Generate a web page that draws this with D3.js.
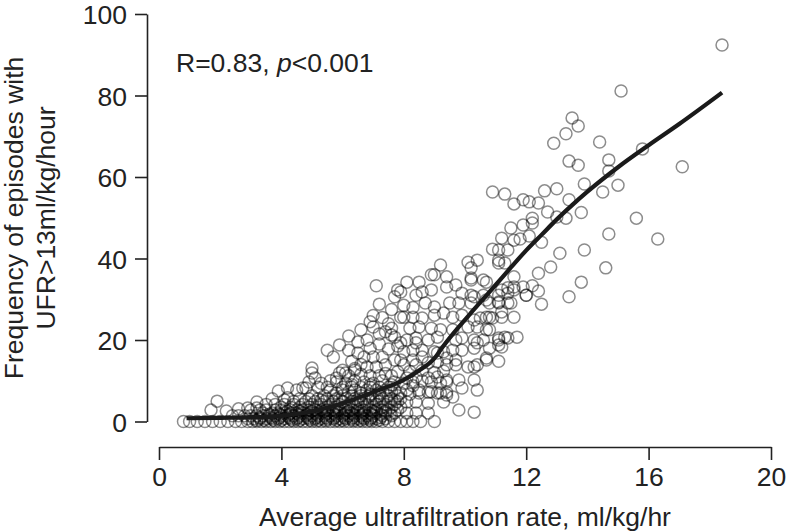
<!DOCTYPE html>
<html><head><meta charset="utf-8">
<script src="https://cdn.jsdelivr.net/npm/d3@7"></script>
<style>
body{margin:0;background:#fff;}
text{font-family:"Liberation Sans",Arial,Helvetica,sans-serif;fill:#222;}
</style></head>
<body><svg id="c" width="788" height="531"></svg>
<script>
const xTicks = [0, 4, 8, 12, 16, 20];
const yTicks = [0, 20, 40, 60, 80, 100];
const xTitle = "Average ultrafiltration rate, ml/kg/hr";
const yTitle = ["Frequency of episodes with", "UFR>13ml/kg/hour"];

// scatter points [ultrafiltration rate, frequency %]
const upperPoints = [
[18.4,92.4],[15.1,81.1],[13.5,74.5],[13.7,72.5],[13.3,70.6],[12.9,68.3],[14.4,68.6],[13.4,63.9],[13.7,62.9],[14.7,64.2],
[14.7,61.5],[15.8,66.9],[17.1,62.5],[13.9,58.3],[15.0,58.0],[14.5,56.3],[13.0,57.1],[12.6,56.6],[10.9,56.3],[11.3,55.8],
[11.9,54.4],[13.4,54.4],[15.6,49.9],[14.7,46.0],[16.3,44.8],[14.6,37.7],
[11.6,53.4],[12.1,53.9],[12.4,53.6],[12.7,51.4],[13.8,51.3],[13.0,50.2],[13.3,49.9],[12.2,49.9],[11.5,47.5],[11.9,48.2],
[12.2,48.7],[11.2,45.0],[11.6,44.5],[11.8,44.8],[12.1,45.5],[12.5,44.0],[11.4,42.1],[13.1,41.3],[13.9,42.1],[11.3,38.9],
[12.8,37.9],[12.4,36.4],[11.6,35.5],[11.4,32.8],[12.2,33.3],[12.4,32.0],[12.0,31.0],[13.8,34.2],[13.4,30.6],[12.5,28.8],
[11.4,29.1],[11.5,29.1],[11.6,25.6],[11.2,26.9],[11.3,20.7],[11.7,20.7]
];
const midPoints = [
[10.9,42.3],[11.1,42.1],[11.1,39.6],[10.4,39.6],[10.6,34.7],[11.6,33.0],[11.2,32.3],[11.1,29.1],[10.7,29.8],[10.3,30.6],
[10.2,34.7],[11.2,25.6],[10.8,25.6],[10.5,25.4],[10.7,22.5],[11.4,20.5],[11.1,20.0],[11.2,18.3],[10.4,19.3],[10.7,15.1],
[11.1,14.8],[10.3,13.4],[10.3,10.2],[10.4,7.7],[10.3,2.3],
[9.2,38.4],[10.1,39.1],[10.2,37.7],[11.1,38.9],[9.0,36.0],[9.4,35.5],[8.1,34.2],[8.5,34.2],[9.4,33.0],[9.7,33.5],
[10.2,35.2],[10.7,34.2],[11.9,33.0],[7.9,31.8],[8.6,31.8],[8.9,32.3],[9.9,31.5],[10.2,31.0],[10.6,31.0],[11.1,31.0],
[11.4,31.5],[11.6,32.3],[12.0,31.0],[8.7,29.1],[9.0,28.1],[9.5,29.1],[9.8,29.1],[10.2,29.1],[10.8,29.1],[11.1,29.3],
[8.0,25.6],[8.3,25.6],[8.6,25.4],[9.0,26.1],[9.3,26.6],[9.6,25.6],[9.9,26.1],[10.3,24.9],[10.7,25.6],[10.9,25.4],
[8.2,22.9],[8.5,23.2],[8.9,22.9],[9.2,22.5],[9.6,22.5],[10.1,23.2],[10.4,23.2],[10.8,22.5],[11.1,20.5],[8.1,20.0],
[8.4,20.5],[8.8,20.0],[9.1,20.7],[9.7,20.0],[9.9,20.5],[10.3,20.0],[10.6,20.0],[10.8,18.0],[11.1,18.8],[8.0,17.1],
[8.3,17.5],[8.6,17.5],[9.0,17.1],[9.3,17.1],[9.6,17.5],[9.9,17.5],[10.3,18.0],[10.1,13.4],[10.4,13.9],[10.7,15.6],
[8.0,13.9],[8.4,13.9],[8.8,14.4],[9.1,14.6],[9.4,13.9],[9.7,13.9],[8.1,10.7],[8.4,10.9],[8.8,10.7],[9.1,10.9],
[9.4,10.2],[9.8,10.2],[9.9,8.2],[8.1,7.7],[8.5,7.7],[8.8,7.2],[9.1,7.0],[9.4,6.5],[9.3,4.8],[9.6,6.0],
[8.1,4.8],[8.4,4.8],[8.8,4.5],[9.8,2.8],[8.1,2.1],[8.4,2.1],[8.8,2.1],[9.0,0],[8.1,0],
[7.1,33.3],[7.7,30.6],[7.8,32.3],[8.9,36.0],[8.4,31.0],[5.7,15.8],[6.8,20.0],[7.0,23.2],[7.4,22.0],[7.6,21.2],
[7.6,22.9],[7.9,25.6],[7.7,20.7],[7.9,19.3],[8.4,19.3],[6.5,16.8],[6.7,15.8],[7.0,15.8],[7.3,15.8],[6.0,12.6],
[6.1,11.9],[6.4,12.6],[6.8,13.4],[7.1,13.4],[7.4,13.9],[7.7,15.1],[7.9,15.1],[8.3,15.1],[8.6,15.8],[9.1,16.8],
[9.4,15.6],[9.7,15.1],
[6.2,17.5],[6.5,19.5],[6.9,18.0],[7.2,19.0],[7.5,17.8],[7.8,18.5],[6.3,14.8],[7.2,21.5],[7.5,24.0],[7.0,26.0],
[6.6,22.5],[6.2,21.0],[5.9,18.8],[5.5,17.5],[7.3,25.5],[7.6,27.5],[7.2,28.8],[6.9,24.5],[8.0,28.5],[8.3,28.0],
[8.2,12.3],[8.6,12.5],[9.0,12.0],[9.3,12.4],[7.4,11.8],[7.8,12.2],[6.6,11.6]
];
const lowPoints = [
[5.8,9.7],[6.1,9.4],[6.4,10.0],[6.7,9.7],[7.0,9.4],[7.3,10.0],[7.7,9.7],[8.0,9.4],[8.3,9.7],[8.6,10.0],[8.9,9.7],[9.2,9.4],[9.4,9.7],
[5.8,7.0],[6.2,7.3],[6.6,7.0],[6.9,6.7],[7.2,7.0],[7.6,7.3],[7.9,7.0],[8.2,6.7],[8.5,7.0],[8.9,7.3],[9.2,7.0],[9.4,7.2],
[5.0,13.1],[5.0,11.9],[5.1,10.7],[3.9,7.5],[4.5,7.7],[4.7,8.2],[1.9,5.0],[1.7,2.8],[2.2,2.6],[2.6,3.1],
[2.9,3.3],[3.2,4.8],[3.2,3.3],[3.5,2.8],[4.1,5.3],[4.2,5.8],[4.8,8.2],[5.3,9.4],[5.8,10.7],[5.9,11.9],
[4.9,9.7],[4.2,8.2],[5.6,10.0],[6.4,13.0],[6.6,14.0],
[0.8,0],[1.0,0],[1.25,0],[1.5,0],[1.75,0],[2.0,0],[2.25,0],[2.5,0],[2.7,0],[2.9,0],[3.05,0],[3.2,0],[3.35,0],[3.5,0],
[3.65,0],[3.8,0],[3.95,0],[4.1,0],[4.25,0],[4.4,0],[4.55,0],[4.7,0],[4.85,0],[5.0,0],[5.15,0],[5.3,0],[5.45,0],[5.6,0],
[5.75,0],[5.9,0],[6.05,0],[6.2,0],[6.35,0],[6.5,0],[6.65,0],[6.8,0],[6.95,0],[7.1,0],[7.3,0],[7.5,0],[7.7,0],[7.9,0],
[8.3,0],[8.55,0],
[2.4,1.4],[2.6,1.4],[2.8,1.4],[3.0,1.4],[3.2,1.4],[3.4,1.4],[3.6,1.4],[3.8,1.4],[4.0,1.4],[4.2,1.4],[4.4,1.4],[4.6,1.4],
[4.8,1.4],[5.0,1.4],[5.2,1.4],[5.4,1.4],[5.6,1.4],[5.8,1.4],[6.0,1.4],[6.2,1.4],[6.4,1.4],[6.6,1.4],[6.8,1.4],[7.0,1.4],
[7.3,1.4],[7.6,1.4],
[3.0,2.8],[3.3,2.8],[3.8,2.8],[4.0,2.8],[4.3,2.8],[4.5,2.8],[4.7,2.8],[4.9,2.8],[5.1,2.8],[5.3,2.8],[5.5,2.8],[5.7,2.8],
[5.9,2.8],[6.1,2.8],[6.3,2.8],[6.5,2.8],[6.7,2.8],[6.9,2.8],[7.1,2.8],[7.3,2.8],[7.5,2.8],[7.8,2.8],
[3.5,4.2],[3.8,4.2],[4.1,4.2],[4.4,4.2],[4.7,4.2],[5.0,4.2],[5.3,4.2],[5.6,4.2],[5.9,4.2],[6.2,4.2],[6.5,4.2],[6.8,4.2],
[7.1,4.2],[7.4,4.2],[7.7,4.2],
[3.7,5.6],[4.6,5.6],[4.9,5.6],[5.2,5.6],[5.5,5.6],[5.8,5.6],[6.1,5.6],[6.4,5.6],[6.7,5.6],[7.0,5.6],[7.3,5.6],[7.6,5.6],[7.9,5.6],
[5.2,8.4],[5.5,8.4],[6.0,8.4],[6.3,8.4],[6.6,8.4],[6.9,8.4],[7.2,8.4],[7.5,8.4],
[6.2,11.2],[6.9,11.2],[7.2,11.2],[7.6,11.2]
];
const densePoints = [
[2.9,0.7],[3.1,0.7],[3.3,0.7],[3.5,0.7],[3.7,0.7],[3.9,0.7],[4.1,0.7],[4.3,0.7],[4.5,0.7],[4.7,0.7],[4.9,0.7],[5.1,0.7],
[5.3,0.7],[5.5,0.7],[5.7,0.7],[5.9,0.7],[6.1,0.7],[6.3,0.7],[6.5,0.7],[6.7,0.7],[6.9,0.7],[7.1,0.7],[7.4,0.7],
[3.4,2.1],[3.7,2.1],[3.9,2.1],[4.1,2.1],[4.3,2.1],[4.5,2.1],[4.7,2.1],[4.9,2.1],[5.1,2.1],[5.3,2.1],[5.5,2.1],[5.7,2.1],
[5.9,2.1],[6.1,2.1],[6.3,2.1],[6.5,2.1],[6.7,2.1],[6.9,2.1],[7.1,2.1],[7.4,2.1],[7.7,2.1],
[4.0,3.5],[4.3,3.5],[4.6,3.5],[4.9,3.5],[5.2,3.5],[5.5,3.5],[5.8,3.5],[6.1,3.5],[6.4,3.5],[6.7,3.5],[7.0,3.5],[7.3,3.5],
[7.6,3.5],[7.9,3.5],
[4.4,4.9],[4.8,4.9],[5.1,4.9],[5.4,4.9],[5.7,4.9],[6.0,4.9],[6.3,4.9],[6.6,4.9],[6.9,4.9],[7.2,4.9],[7.5,4.9],[7.8,4.9],
[5.0,6.3],[5.4,6.3],[5.7,6.3],[6.0,6.3],[6.3,6.3],[6.6,6.3],[6.9,6.3],[7.2,6.3],[7.5,6.3],[7.8,6.3],
[5.6,7.7],[6.0,7.7],[6.4,7.7],[6.8,7.7],[7.1,7.7],[7.4,7.7],[7.7,7.7],
[3.2,0.3],[3.45,0.3],[3.75,0.3],[4.0,0.3],[4.35,0.3],[4.6,0.3],[4.95,0.3],[5.2,0.3],[5.45,0.3],[5.8,0.3],[6.0,0.3],
[6.35,0.3],[6.6,0.3],[6.9,0.3],[7.2,0.3],
[3.3,1.0],[3.65,1.0],[3.95,1.0],[4.25,1.0],[4.55,1.0],[4.85,1.0],[5.15,1.0],[5.45,1.0],[5.75,1.0],[6.05,1.0],[6.35,1.0],
[6.65,1.0],[6.95,1.0],[7.25,1.0],
[3.6,1.8],[3.95,1.8],[4.25,1.8],[4.55,1.8],[4.85,1.8],[5.15,1.8],[5.45,1.8],[5.75,1.8],[6.05,1.8],[6.35,1.8],[6.65,1.8],
[6.95,1.8],[7.25,1.8],[7.55,1.8],
[4.2,2.5],[4.6,2.5],[5.0,2.5],[5.4,2.5],[5.8,2.5],[6.2,2.5],[6.6,2.5],[7.0,2.5],[7.4,2.5],
[5.3,5.3],[5.9,5.3],[6.5,5.3],[7.1,5.3],[7.7,5.3],[6.3,9.0],[6.9,9.0],[7.6,9.0],[8.3,8.8]
];
// smoothed fit line
const fitX = [0.9, 2, 3, 4, 5, 6, 7, 8, 8.5, 9.0, 9.3, 9.75, 10.2, 10.6, 11.0, 11.5, 12.0, 12.5, 13.0, 13.5, 14.0, 15.0, 16.0, 17.0, 18.4];
const fitY = [0.8, 0.9, 1.0, 1.4, 2.5, 4.5, 7.2, 10.2, 12.5, 15.5, 18.6, 22.8, 26.7, 30.1, 33.5, 37.8, 42.0, 45.8, 49.6, 53.1, 56.4, 62.4, 67.8, 73.0, 80.7];
const statText = ["R=0.83, ", "p", "<0.001"];

const svg = d3.select("#c");
const x = d3.scaleLinear().domain([0, 20]).range([159, 771]);
const y = d3.scaleLinear().domain([0, 100]).range([421.5, 14]);
const FS = 26.5;

// axes
const xAxis = svg.append("g").attr("transform", "translate(0,447)")
  .call(d3.axisBottom(x).tickValues(xTicks).tickSize(13).tickPadding(4).tickSizeOuter(0));
const yAxis = svg.append("g").attr("transform", "translate(147,0)")
  .call(d3.axisLeft(y).tickValues(yTicks).tickSize(12).tickPadding(8).tickSizeOuter(0));
[xAxis, yAxis].forEach(g => {
  g.select(".domain").attr("stroke", "#222").attr("stroke-width", 1.6);
  g.selectAll(".tick line").attr("stroke", "#222").attr("stroke-width", 1.6);
  g.selectAll(".tick text").attr("font-size", FS).attr("fill", "#222")
    .attr("font-family", "Liberation Sans, Arial, sans-serif");
});
xAxis.selectAll(".tick text").attr("dy", "0.82em");
yAxis.selectAll(".tick text").attr("dy", "0.36em");

// points
const allPoints = upperPoints.concat(midPoints, lowPoints, densePoints);
svg.append("g").selectAll("circle").data(allPoints).join("circle")
  .attr("cx", d => x(d[0])).attr("cy", d => y(d[1])).attr("r", 6)
  .attr("fill", "none").attr("stroke", "#000").attr("stroke-opacity", 0.45).attr("stroke-width", 1.5);

// fit line
const fit = fitX.map((v, i) => [v, fitY[i]]);
svg.append("path").datum(fit)
  .attr("d", d3.line().x(d => x(d[0])).y(d => y(d[1])).curve(d3.curveMonotoneX))
  .attr("fill", "none").attr("stroke", "#1a1a1a").attr("stroke-width", 4.2).attr("stroke-linecap", "butt");

// stat annotation
const st = svg.append("text").attr("x", 176).attr("y", 72).attr("font-size", FS);
st.append("tspan").text(statText[0]);
st.append("tspan").attr("font-style", "italic").text(statText[1]);
st.append("tspan").text(statText[2]);

// titles
svg.append("text").attr("x", 465).attr("y", 526).attr("text-anchor", "middle")
  .attr("font-size", FS).text(xTitle);
svg.append("text").attr("transform", "translate(23,218) rotate(-90)").attr("text-anchor", "middle")
  .attr("font-size", FS).text(yTitle[0]);
svg.append("text").attr("transform", "translate(55,218) rotate(-90)").attr("text-anchor", "middle")
  .attr("font-size", FS).text(yTitle[1]);
</script></body></html>
